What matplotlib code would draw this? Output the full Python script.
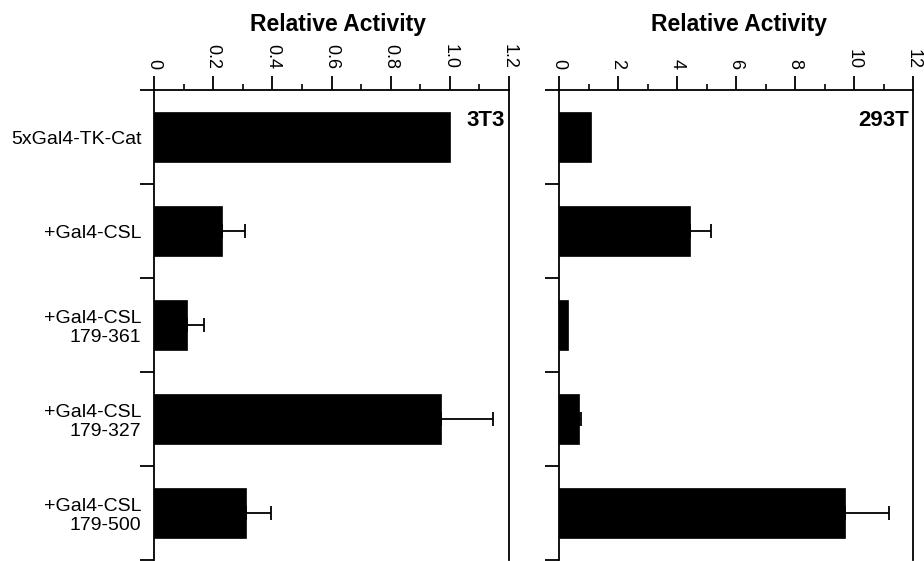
import matplotlib
matplotlib.use("Agg")
import matplotlib.pyplot as plt
import numpy as np

plt.rcParams['font.family'] = ['Liberation Sans', 'DejaVu Sans']

categories = ["5xGal4-TK-Cat", "+Gal4-CSL", "+Gal4-CSL\n179-361",
              "+Gal4-CSL\n179-327", "+Gal4-CSL\n179-500"]

vals_3t3 = [1.0, 0.23, 0.11, 0.97, 0.31]
err_3t3 = [0.0, 0.077, 0.058, 0.177, 0.086]

vals_293t = [1.1, 4.43, 0.31, 0.68, 9.68]
err_293t = [0.0, 0.72, 0.0, 0.05, 1.49]

xticks_3t3 = [0, 0.2, 0.4, 0.6, 0.8, 1.0, 1.2]
xticklabels_3t3 = ["0", "0.2", "0.4", "0.6", "0.8", "1.0", "1.2"]
xticks_293t = [0, 2, 4, 6, 8, 10, 12]
xticklabels_293t = ["0", "2", "4", "6", "8", "10", "12"]

W, H = 924, 561
fig = plt.figure(figsize=(W / 100, H / 100), dpi=100)


def px_axes(x0, x1, y0, y1):
    return fig.add_axes([x0 / W, (H - y1) / H, (x1 - x0) / W, (y1 - y0) / H])


ax1 = px_axes(154, 509, 90, 560)
ax2 = px_axes(559, 913, 90, 560)

n = len(categories)
ypos = np.arange(n)


def style(ax, vals, errs, xticks, xlabels, xmax, minor_step, panel, show_labels):
    ax.barh(ypos, vals, height=0.53, color='black', edgecolor='black', linewidth=0.5)
    xerr = np.array([[0] * n, errs])
    mask = np.array(errs) > 0
    ax.errorbar(np.array(vals)[mask], ypos[mask], xerr=xerr[:, mask], fmt='none',
                ecolor='black', elinewidth=1.3, capsize=5, capthick=1.3)
    ax.set_xlim(0, xmax)
    ax.set_ylim(n - 0.5, -0.5)
    ax.xaxis.tick_top()
    ax.set_xticks(xticks)
    ax.set_xticklabels(xlabels, rotation=-90, fontsize=13)
    ax.set_xticks(np.arange(0, xmax + 1e-9, minor_step), minor=True)
    ax.tick_params(axis='x', which='major', direction='out', length=10, width=1.3, pad=5)
    ax.tick_params(axis='x', which='minor', direction='out', length=4, width=1.2)
    ax.set_yticks(np.arange(-0.5, n, 1.0))
    ax.set_yticklabels([])
    ax.tick_params(axis='y', which='major', direction='out', length=10, width=1.3)
    ax.set_yticks(ypos, minor=True)
    if show_labels:
        ax.set_yticklabels(categories, minor=True, fontsize=14, linespacing=1.15)
    else:
        ax.set_yticklabels([''] * n, minor=True)
    ax.tick_params(axis='y', which='minor', length=0, pad=9)
    ax.tick_params(axis='x', which='both', bottom=False, labelbottom=False)
    ax.spines['bottom'].set_visible(False)
    for s in ['top', 'left', 'right']:
        ax.spines[s].set_linewidth(1.3)
    ax.text(0.988, 0.958, panel, transform=ax.transAxes, ha='right', va='top',
            fontsize=16, fontweight='bold')


style(ax1, vals_3t3, err_3t3, xticks_3t3, xticklabels_3t3, 1.2, 0.1, "3T3", True)
style(ax2, vals_293t, err_293t, xticks_293t, xticklabels_293t, 12, 1, "293T", False)

fig.text(338 / W, (H - 31) / H, "Relative Activity", ha='center', va='baseline',
         fontsize=16.5, fontweight='bold')
fig.text(739 / W, (H - 31) / H, "Relative Activity", ha='center', va='baseline',
         fontsize=16.5, fontweight='bold')

fig.savefig("out.png", dpi=100)
